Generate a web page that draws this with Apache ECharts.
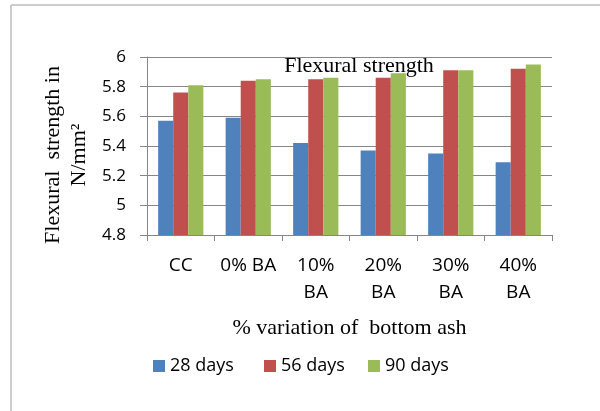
<!DOCTYPE html>
<html>
<head>
<meta charset="utf-8">
<script src="https://cdn.jsdelivr.net/npm/echarts@6/dist/echarts.min.js"></script>
<style>html,body{margin:0;padding:0;background:#fff}#c{width:600px;height:411px}</style>
</head>
<body>
<div id="c"></div>
<script>
var categories = ['CC', '0% BA', '10%\nBA', '20%\nBA', '30%\nBA', '40%\nBA'];
var seriesNames = ['28 days', '56 days', '90 days'];
var days28 = [5.57, 5.59, 5.42, 5.37, 5.35, 5.29];
var days56 = [5.76, 5.84, 5.85, 5.86, 5.91, 5.92];
var days90 = [5.81, 5.85, 5.86, 5.89, 5.91, 5.95];
var colors = ['#4F81BD', '#C0504D', '#9BBB59'];
var yAxisTitle = 'Flexural  strength in\nN/mm\u00B2';

var chart = echarts.init(document.getElementById('c'), null, {renderer: 'canvas'});
var sans = '"Open Sans", sans-serif';
var serif = '"Liberation Serif", "Times New Roman", serif';
var legendLefts = [153, 264, 368];
chart.setOption({
  animation: false,
  backgroundColor: '#fff',
  title: {
    text: 'Flexural strength',
    left: 354, top: 50, textAlign: 'center',
    textStyle: {fontFamily: serif, fontSize: 22, fontWeight: 'normal', color: '#000'}
  },
  legend: seriesNames.map(function (n, i) {
    return {
      data: [n], left: legendLefts[i], top: 357,
      itemWidth: 12, itemHeight: 12, itemGap: 0,
      icon: 'rect',
      textStyle: {fontFamily: sans, fontSize: 18, color: '#000', padding: [0, 0, 0, 0]},
      padding: 0
    };
  }),
  grid: {left: 147, right: 48, top: 57, bottom: 176, containLabel: false},
  xAxis: {
    type: 'category',
    data: categories,
    axisLine: {lineStyle: {color: '#868686', width: 1}},
    axisTick: {show: true, length: 6, lineStyle: {color: '#868686'}},
    axisLabel: {fontFamily: sans, fontSize: 19, color: '#000', lineHeight: 27, margin: 17, interval: 0},
    name: '% variation of  bottom ash',
    nameLocation: 'middle', nameGap: 82,
    nameTextStyle: {fontFamily: serif, fontSize: 22, color: '#000'}
  },
  yAxis: {
    type: 'value', min: 4.8, max: 6, interval: 0.2,
    axisLine: {show: true, lineStyle: {color: '#868686', width: 1}},
    axisTick: {show: true, length: 7, lineStyle: {color: '#868686'}},
    splitLine: {lineStyle: {color: '#868686', width: 1}},
    axisLabel: {fontFamily: sans, fontSize: 17, color: '#000', margin: 21,
      formatter: function (v) { return String(+v.toFixed(1)); }}
  },
  graphic: [
    {type: 'line', shape: {x1: 11, y1: 5, x2: 600, y2: 5}, style: {stroke: '#bdbdbd', lineWidth: 1.5}},
    {type: 'line', shape: {x1: 11, y1: 5, x2: 11, y2: 411}, style: {stroke: '#bdbdbd', lineWidth: 1.5}},
    {type: 'text', x: 66, y: 155, rotation: Math.PI / 2,
      style: {text: yAxisTitle, font: '22px ' + serif, fill: '#000', align: 'center', verticalAlign: 'middle', lineHeight: 26}}
  ],
  series: [days28, days56, days90].map(function (d, i) {
    return {
      type: 'bar', name: seriesNames[i], data: d,
      itemStyle: {color: colors[i]},
      barGap: '0%', barCategoryGap: '33%'
    };
  })
});
</script>
</body>
</html>
